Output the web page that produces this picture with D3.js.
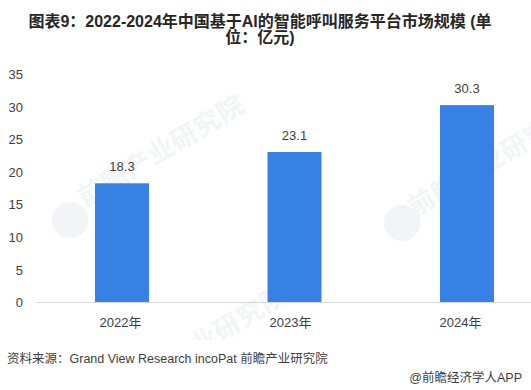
<!DOCTYPE html>
<html>
<head>
<meta charset="utf-8">
<script src="https://cdn.jsdelivr.net/npm/d3@7"></script>
<style>
    html, body { margin: 0; padding: 0; background: #fff; overflow: hidden; }
    text { font-family: "Liberation Sans", "Noto Sans CJK SC", sans-serif; }
</style>
</head>
<body>
<div id="chart"></div>
<script>
const years = ['2022年', '2023年', '2024年'];
const marketSize = [18.3, 23.1, 30.3];
const yTicks = [0, 5, 10, 15, 20, 25, 30, 35];
const titleLines = ['图表9：2022-2024年中国基于AI的智能呼叫服务平台市场规模 (单', '位：亿元)'];
const sourceText = '资料来源：Grand View Research incoPat 前瞻产业研究院';
const brandText = '@前瞻经济学人APP';
const watermarkText = '前瞻产业研究院';

const width = 531;
const height = 390;
const fontStack = '"Liberation Sans", "Noto Sans CJK SC", sans-serif';

const svg = d3.select('#chart').append('svg')
    .attr('width', width)
    .attr('height', height);

// watermarks go first so the bars cover them
[[85, 207], [415, 217], [128, 397]].forEach(([x, y]) => {
    svg.append('text')
        .attr('transform', `translate(${x},${y}) rotate(-31)`)
        .attr('font-size', 26)
        .attr('letter-spacing', 1)
        .attr('font-weight', 'bold')
        .attr('fill', '#f2f4f7')
        .text(watermarkText);
});
[[70, 220], [402, 223]].forEach(([x, y]) => {
    svg.append('circle')
        .attr('cx', x)
        .attr('cy', y)
        .attr('r', 18)
        .attr('fill', '#f2f4f7');
});
// the footer strip is clean in the original
svg.append('rect')
    .attr('x', 0)
    .attr('y', 340)
    .attr('width', width)
    .attr('height', height - 340)
    .attr('fill', '#fff');

const xScale = d3.scaleBand()
    .domain(years)
    .range([36, 553])
    .paddingInner(0.687)
    .paddingOuter(0.342);

// tick labels sit a little left of the bars in the original
const labelScale = d3.scalePoint()
    .domain(years)
    .range([120, 460]);

const yScale = d3.scaleLinear()
    .domain([0, 35])
    .range([302.5, 74.5]);

svg.selectAll('rect.bar')
    .data(marketSize)
    .join('rect')
    .attr('class', 'bar')
    .attr('x', (d, i) => xScale(years[i]))
    .attr('y', d => yScale(d))
    .attr('width', xScale.bandwidth())
    .attr('height', d => yScale(0) - yScale(d))
    .attr('fill', '#3781e4');

svg.selectAll('text.value')
    .data(marketSize)
    .join('text')
    .attr('class', 'value')
    .attr('x', (d, i) => xScale(years[i]) + xScale.bandwidth() / 2)
    .attr('y', d => yScale(d) - 12)
    .attr('text-anchor', 'middle')
    .attr('font-size', 13)
    .attr('fill', '#404040')
    .text(d => d);

const xAxis = svg.append('g')
    .attr('transform', `translate(0,${yScale(0)})`)
    .call(d3.axisBottom(labelScale).tickSize(0).tickPadding(15));
xAxis.select('.domain')
    .attr('d', `M36,0H${width}`)
    .attr('stroke', '#d9d9d9')
    .attr('stroke-width', 1);
xAxis.selectAll('text')
    .attr('font-size', 13)
    .attr('font-family', fontStack)
    .attr('fill', '#404040');

const yAxis = svg.append('g')
    .attr('transform', 'translate(23,0)')
    .call(d3.axisLeft(yScale).tickValues(yTicks).tickSize(0).tickPadding(0));
yAxis.select('.domain').remove();
yAxis.selectAll('text')
    .attr('font-size', 13)
    .attr('font-family', fontStack)
    .attr('fill', '#404040');

svg.selectAll('text.title')
    .data(titleLines)
    .join('text')
    .attr('class', 'title')
    .attr('x', 260)
    .attr('y', (d, i) => 26.5 + i * 16)
    .attr('text-anchor', 'middle')
    .attr('font-size', 16)
    .attr('font-weight', 'bold')
    .attr('fill', '#262626')
    .text(d => d);

svg.append('text')
    .attr('x', 7)
    .attr('y', 363)
    .attr('font-size', 12.5)
    .attr('fill', '#404040')
    .text(sourceText);

svg.append('text')
    .attr('x', 522)
    .attr('y', 382)
    .attr('text-anchor', 'end')
    .attr('font-size', 12.5)
    .attr('fill', '#404040')
    .text(brandText);
</script>
</body>
</html>
